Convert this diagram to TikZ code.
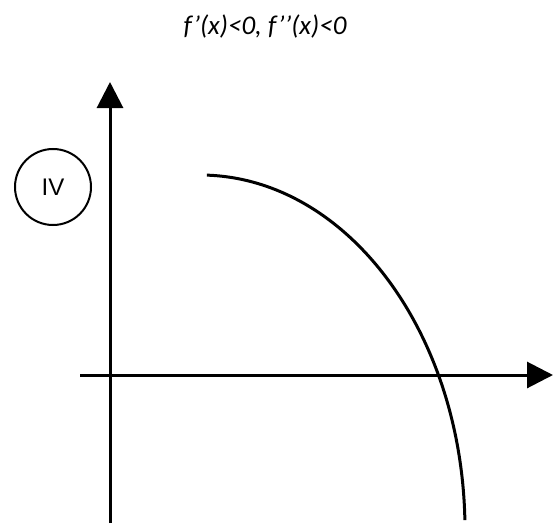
\documentclass[tikz,border=0pt]{standalone}
\usepackage{fontspec}
\setmainfont{Carlito}
\newfontfamily\arialfont{Liberation Sans}
\usetikzlibrary{arrows.meta}
\begin{document}
\begin{tikzpicture}[x=1pt,y=-1pt,
  axisline/.style={line width=3pt,-{Triangle[length=26pt,width=26pt]}},
  curveline/.style={line width=3pt},
  labelcircle/.style={circle,draw,line width=2pt,minimum size=76pt,inner sep=0pt,font=\arialfont\fontsize{24}{24}\selectfont},
  titletext/.style={font=\itshape\fontsize{27}{27}\selectfont}]
\useasboundingbox (0,0) rectangle (557,527);
\coordinate (ybot) at (110,523);
\coordinate (ytop) at (110,82);
\coordinate (xl) at (80,375);
\coordinate (xr) at (553,375);
\draw[axisline] (ybot) -- (ytop);
\draw[axisline] (xl) -- (xr);
\node[labelcircle] (iv) at (53,187) {IV};
\node[titletext] (title) at (265,26) {f’(x)<0, f’’(x)<0};
\draw[curveline] (200,530) ++(-88.5:265 and 355) coordinate (cs)
  arc[start angle=-88.5,end angle=-1.6,x radius=265,y radius=355] coordinate (ce);
\end{tikzpicture}
\end{document}
